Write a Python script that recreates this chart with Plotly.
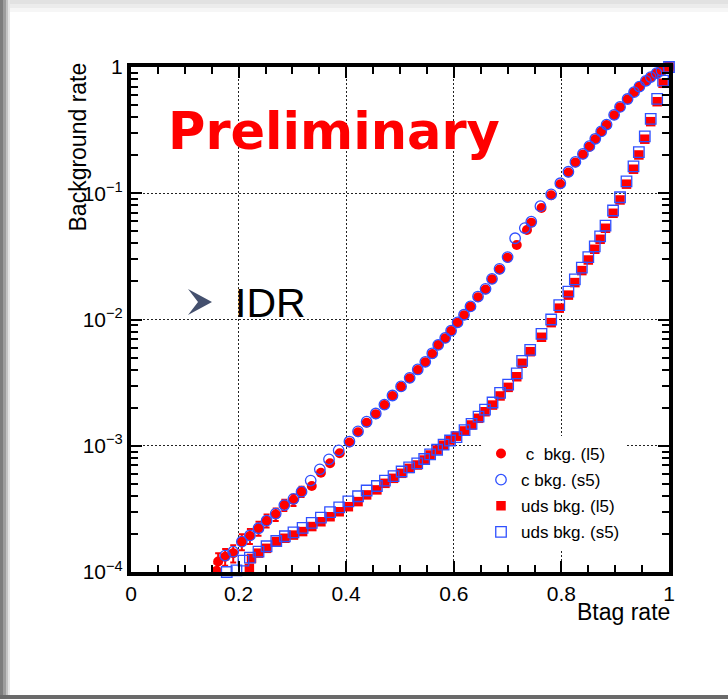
import plotly.graph_objects as go

# ---------------- data ----------------
c_l5_x = [0.159, 0.162, 0.175, 0.190, 0.206, 0.221, 0.237, 0.252, 0.269, 0.285, 0.302, 0.317,
          0.336, 0.353, 0.370, 0.388, 0.406, 0.422, 0.438, 0.455, 0.471, 0.486, 0.502, 0.518,
          0.533, 0.547, 0.560, 0.571, 0.584, 0.595, 0.607, 0.619, 0.631, 0.645, 0.659, 0.671,
          0.685, 0.700, 0.717, 0.736, 0.744, 0.763, 0.781, 0.798, 0.813, 0.826, 0.840, 0.852,
          0.863, 0.874, 0.884, 0.898, 0.909, 0.923, 0.935, 0.945, 0.957, 0.966, 0.977, 0.986, 0.999]
c_l5_y = [1.02e-4, 1.21e-4, 1.32e-4, 1.41e-4, 1.74e-4, 1.93e-4, 2.22e-4, 2.55e-4, 2.86e-4, 3.39e-4,
          3.72e-4, 4.33e-4, 4.80e-4, 6.12e-4, 7.26e-4, 8.71e-4, 1.06e-3, 1.28e-3, 1.52e-3, 1.78e-3,
          2.10e-3, 2.48e-3, 2.93e-3, 3.42e-3, 3.98e-3, 4.58e-3, 5.33e-3, 6.28e-3, 7.09e-3, 8.10e-3,
          9.42e-3, 1.08e-2, 1.26e-2, 1.50e-2, 1.73e-2, 2.08e-2, 2.49e-2, 3.09e-2, 3.89e-2, 5.12e-2,
          5.85e-2, 7.64e-2, 9.63e-2, 0.118, 0.146, 0.175, 0.203, 0.234, 0.268, 0.307, 0.347, 0.415,
          0.480, 0.555, 0.630, 0.698, 0.775, 0.830, 0.891, 0.935, 1.0]
c_l5_err = [1.5e-5, 2.0e-5, 2.0e-5, 2.2e-5, 2.5e-5, 2.6e-5, 2.8e-5, 3.0e-5, 3.2e-5, 3.5e-5, 3.8e-5, 4.0e-5,
            0, 0, 0, 0, 0, 0, 0, 0, 0, 0, 0, 0, 0, 0, 0, 0, 0, 0, 0, 0, 0, 0, 0, 0, 0, 0, 0, 0,
            0, 0, 0, 0, 0, 0, 0, 0, 0, 0, 0, 0, 0, 0, 0, 0, 0, 0, 0, 0, 0]

c_s5_x = [0.175, 0.190, 0.206, 0.221, 0.237, 0.252, 0.269, 0.285, 0.302, 0.317,
          0.334, 0.351, 0.368, 0.386, 0.406, 0.422, 0.438, 0.455, 0.471, 0.486, 0.502, 0.518,
          0.533, 0.547, 0.560, 0.571, 0.584, 0.595, 0.607, 0.619, 0.631, 0.645, 0.659, 0.671,
          0.685, 0.700, 0.714, 0.732, 0.744, 0.761, 0.781, 0.798, 0.813, 0.826, 0.840, 0.852,
          0.863, 0.874, 0.884, 0.898, 0.909, 0.923, 0.935, 0.945, 0.957, 0.966, 0.977, 0.986, 0.999]
c_s5_y = [1.35e-4, 1.45e-4, 1.74e-4, 1.95e-4, 2.22e-4, 2.55e-4, 2.90e-4, 3.39e-4,
          3.80e-4, 4.33e-4, 5.30e-4, 6.50e-4, 7.80e-4, 9.20e-4, 1.08e-3, 1.30e-3, 1.55e-3, 1.80e-3,
          2.12e-3, 2.50e-3, 2.95e-3, 3.45e-3, 4.02e-3, 4.62e-3, 5.40e-3, 6.30e-3, 7.15e-3, 8.15e-3,
          9.50e-3, 1.09e-2, 1.27e-2, 1.52e-2, 1.75e-2, 2.10e-2, 2.52e-2, 3.12e-2, 4.40e-2, 5.30e-2,
          5.95e-2, 7.90e-2, 9.80e-2, 0.120, 0.148, 0.177, 0.205, 0.236, 0.270, 0.309, 0.350, 0.418,
          0.483, 0.558, 0.632, 0.700, 0.777, 0.832, 0.893, 0.936, 1.0]

uds_l5_x = [0.220, 0.224, 0.237, 0.252, 0.270, 0.286, 0.302, 0.319, 0.336, 0.353, 0.370, 0.387,
            0.404, 0.422, 0.438, 0.457, 0.472, 0.488, 0.503, 0.517, 0.532, 0.545, 0.556, 0.569,
            0.581, 0.593, 0.605, 0.620, 0.633, 0.646, 0.658, 0.672, 0.686, 0.701, 0.717, 0.727,
            0.742, 0.763, 0.781, 0.796, 0.813, 0.825, 0.838, 0.850, 0.862, 0.872, 0.882, 0.896,
            0.909, 0.921, 0.934, 0.944, 0.955, 0.966, 0.978, 0.989, 1.000]
uds_l5_y = [1.07e-4, 1.28e-4, 1.41e-4, 1.54e-4, 1.74e-4, 1.85e-4, 1.96e-4, 2.09e-4, 2.29e-4, 2.50e-4,
            2.74e-4, 3.00e-4, 3.29e-4, 3.61e-4, 4.08e-4, 4.47e-4, 5.04e-4, 5.52e-4, 6.05e-4, 6.62e-4,
            7.04e-4, 7.71e-4, 8.45e-4, 9.25e-4, 1.01e-3, 1.11e-3, 1.19e-3, 1.31e-3, 1.46e-3, 1.65e-3,
            1.86e-3, 2.10e-3, 2.48e-3, 2.90e-3, 3.52e-3, 4.50e-3, 5.56e-3, 7.23e-3, 9.44e-3, 1.23e-2,
            1.56e-2, 1.96e-2, 2.44e-2, 2.96e-2, 3.60e-2, 4.32e-2, 5.28e-2, 6.94e-2, 8.85e-2, 0.118,
            0.155, 0.201, 0.268, 0.369, 0.531, 0.743, 1.0]

uds_s5_x = [0.178, 0.196, 0.209, 0.221, 0.237, 0.252, 0.270, 0.286, 0.302, 0.319, 0.336, 0.353,
            0.370, 0.387, 0.404, 0.422, 0.438, 0.457, 0.472, 0.488, 0.503, 0.517, 0.532, 0.545,
            0.556, 0.569, 0.581, 0.593, 0.605, 0.620, 0.633, 0.646, 0.658, 0.672, 0.686, 0.701,
            0.717, 0.727, 0.742, 0.763, 0.781, 0.796, 0.813, 0.825, 0.838, 0.850, 0.862, 0.872,
            0.882, 0.896, 0.909, 0.921, 0.934, 0.944, 0.955, 0.966, 0.978, 0.989, 1.000]
uds_s5_y = [1.00e-4, 1.03e-4, 1.23e-4, 1.30e-4, 1.45e-4, 1.60e-4, 1.76e-4, 1.92e-4, 2.06e-4, 2.24e-4,
            2.45e-4, 2.70e-4, 2.98e-4, 3.25e-4, 3.62e-4, 3.98e-4, 4.42e-4, 4.80e-4, 5.30e-4, 5.75e-4,
            6.25e-4, 6.75e-4, 7.25e-4, 7.85e-4, 8.55e-4, 9.30e-4, 1.02e-3, 1.10e-3, 1.17e-3, 1.33e-3,
            1.49e-3, 1.70e-3, 1.93e-3, 2.20e-3, 2.62e-3, 3.05e-3, 3.75e-3, 4.70e-3, 5.75e-3, 7.70e-3,
            1.00e-2, 1.30e-2, 1.66e-2, 2.08e-2, 2.58e-2, 3.12e-2, 3.80e-2, 4.55e-2, 5.55e-2, 7.30e-2,
            9.30e-2, 0.124, 0.163, 0.212, 0.282, 0.388, 0.560, 0.780, 1.0]

series_names = ["\u00a0c\u00a0\u00a0bkg. (l5)", "c bkg. (s5)", "uds bkg. (l5)", "uds bkg. (s5)"]

x_tickvals = [0, 0.2, 0.4, 0.6, 0.8, 1]
x_ticktext = ["0", "0.2", "0.4", "0.6", "0.8", "1"]
x_minor = [0.05, 0.1, 0.15, 0.25, 0.3, 0.35, 0.45, 0.5, 0.55, 0.65, 0.7, 0.75, 0.85, 0.9, 0.95]
y_tickvals = [1e-4, 1e-3, 1e-2, 1e-1, 1]
y_ticktext = ["10<sup>\u22124</sup>", "10<sup>\u22123</sup>", "10<sup>\u22122</sup>", "10<sup>\u22121</sup>", "1"]
y_minor = [m * 10.0 ** e for e in (-4, -3, -2, -1) for m in (2, 3, 4, 5, 6, 7, 8, 9)]

# ---------------- layout geometry (pixels) ----------------
W, H = 728, 699
L, R, T, B = 131, 669, 67, 572


def xp(px):
    return (px - L) / (R - L)


def yp(py):
    return (B - py) / (B - T)


RED = "#ff0000"
BLUE = "#2f50ff"
FONT = "Liberation Sans, Arial, sans-serif"

fig = go.Figure()
fig.add_trace(go.Scatter(
    x=c_l5_x, y=c_l5_y, mode="markers", name=series_names[0], legendgroup="a",
    marker=dict(symbol="circle", size=10, color=RED, line=dict(width=0)),
    error_y=dict(type="data", array=c_l5_err, color=RED, thickness=2, width=3),
    cliponaxis=False))
fig.add_trace(go.Scatter(
    x=c_s5_x, y=c_s5_y, mode="markers", name=series_names[1], legendgroup="b",
    marker=dict(symbol="circle-open", size=10.5, color=BLUE, line=dict(width=1.3)),
    cliponaxis=False))
fig.add_trace(go.Scatter(
    x=uds_l5_x, y=uds_l5_y, mode="markers", name=series_names[2], legendgroup="c",
    marker=dict(symbol="square", size=9.5, color=RED, line=dict(width=0)),
    cliponaxis=False))
fig.add_trace(go.Scatter(
    x=uds_s5_x, y=uds_s5_y, mode="markers", name=series_names[3], legendgroup="d",
    marker=dict(symbol="square-open", size=10.5, color=BLUE, line=dict(width=1.3)),
    cliponaxis=False))

shapes = []
# slide frame shadows
for x0, x1, col in [(0, 3, "#7d7d7d"), (3, 6, "#9d9d9d"), (6, 8, "#c4c4c4"), (8, 10, "#e6e6e6")]:
    shapes.append(dict(type="rect", xref="paper", yref="paper", x0=xp(x0), x1=xp(x1), y0=yp(H), y1=yp(0),
                       fillcolor=col, line=dict(width=0), layer="below"))
for y0, y1, col in [(0, 4, "#e2e2e2"), (4, 8, "#ececec"), (8, 12, "#f6f6f6")]:
    shapes.append(dict(type="rect", xref="paper", yref="paper", x0=xp(10), x1=xp(W), y0=yp(y1), y1=yp(y0),
                       fillcolor=col, line=dict(width=0), layer="below"))
shapes.append(dict(type="rect", xref="paper", yref="paper", x0=xp(0), x1=xp(W), y0=yp(H), y1=yp(695),
                   fillcolor="#6a6a6a", line=dict(width=0), layer="below"))
# chevron bullet
pts = [(188, 289), (212, 302), (188, 315), (198, 302)]
path = "M " + " L ".join(f"{xp(a):.5f},{yp(b):.5f}" for a, b in pts) + " Z"
shapes.append(dict(type="path", xref="paper", yref="paper", path=path,
                   fillcolor="#44506e", line=dict(width=0)))

annotations = [
    dict(text="<b>Preliminary</b>", x=xp(166), y=yp(131), xref="paper", yref="paper", xanchor="left",
         yanchor="middle", showarrow=False, font=dict(family="DejaVu Sans", size=51, color=RED)),
    dict(text="IDR", x=xp(233), y=yp(303), xref="paper", yref="paper", xanchor="left",
         yanchor="middle", showarrow=False, font=dict(family=FONT, size=41, color="#000000")),
    dict(text="Background rate", x=xp(77), y=yp(61), xref="paper", yref="paper", xanchor="center",
         yanchor="top", textangle=-90, showarrow=False, font=dict(family=FONT, size=23, color="#000000")),
    dict(text="Btag rate", x=xp(672), y=yp(597), xref="paper", yref="paper", xanchor="right",
         yanchor="top", showarrow=False, font=dict(family=FONT, size=23, color="#000000")),
]

axis_common = dict(showline=True, linewidth=4, linecolor="#000000", mirror="allticks",
                   ticks="inside", tickwidth=1.5, tickcolor="#000000", ticklen=11,
                   showgrid=True, gridcolor="#222222", griddash="2px,2px", gridwidth=1,
                   zeroline=False, tickfont=dict(family=FONT, size=21, color="#000000"))

fig.update_xaxes(range=[0, 1], tickmode="array", tickvals=x_tickvals, ticktext=x_ticktext,
                 minor=dict(tickmode="array", tickvals=x_minor, ticks="inside", ticklen=7,
                            tickwidth=1.5, tickcolor="#000000", showgrid=False),
                 **axis_common)
fig.update_yaxes(type="log", range=[-4, 0], tickmode="array", tickvals=y_tickvals, ticktext=y_ticktext,
                 minor=dict(tickmode="array", tickvals=y_minor, ticks="inside", ticklen=7,
                            tickwidth=1.5, tickcolor="#000000", showgrid=False),
                 **axis_common)

fig.update_layout(
    width=W, height=H,
    margin=dict(l=L, r=W - R, t=T, b=H - B, pad=0),
    paper_bgcolor="#ffffff", plot_bgcolor="#ffffff",
    shapes=shapes, annotations=annotations,
    showlegend=True,
    legend=dict(x=xp(481), y=yp(436), xanchor="left", yanchor="top", bgcolor="#ffffff",
                borderwidth=0, font=dict(family=FONT, size=17, color="#000000"),
                traceorder="grouped", tracegroupgap=1, itemwidth=30),
    font=dict(family=FONT),
)

fig.write_html("out.html")
